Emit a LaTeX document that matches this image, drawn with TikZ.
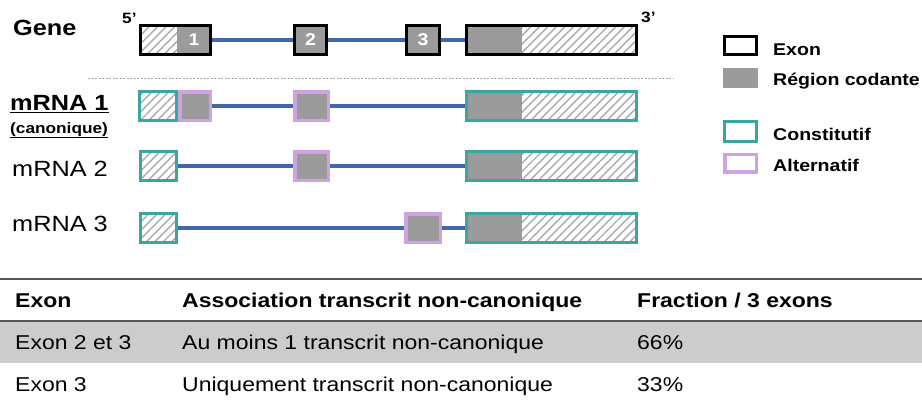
\documentclass[tikz,border=0pt]{standalone}
\usepackage{fontspec}
\setmainfont{Liberation Sans}[FakeStretch=1.15]
\usepackage{xcolor}
\usepackage{tikz}
\usetikzlibrary{positioning,patterns.meta}

\definecolor{ConstTeal}{RGB}{58,166,160}
\definecolor{AltLilac}{RGB}{207,162,226}
\definecolor{CdsGray}{RGB}{155,155,155}
\definecolor{HatchGray}{RGB}{170,170,170}
\definecolor{IntronBlue}{RGB}{62,104,170}
\definecolor{RowGray}{RGB}{204,204,204}
\definecolor{RuleGray}{RGB}{85,85,85}

\begin{document}
\begin{tikzpicture}[x=1pt, y=-1pt,
    utr/.style={pattern={Lines[angle=45,distance=6pt,line width=1.4pt]}, pattern color=HatchGray, minimum height=28.5pt, inner sep=0pt, outer sep=0pt},
    cds/.style={fill=CdsGray, minimum height=28.5pt, inner sep=0pt, outer sep=0pt, text=white, font=\bfseries\fontsize{17}{19}\selectfont},
    genebox/.style={draw=black, line width=3pt, outer sep=auto},
    constbox/.style={draw=ConstTeal, line width=3pt, outer sep=auto},
    altbox/.style={draw=AltLilac, line width=3.5pt, outer sep=auto},
    intron/.style={draw=IntronBlue, line width=3.4pt},
    rowlabel/.style={anchor=base west, inner sep=0pt, font=\fontsize{22}{26}\selectfont},
    legtext/.style={anchor=base west, inner sep=0pt, font=\bfseries\fontsize{17}{20}\selectfont},
    tabtext/.style={anchor=base west, inner sep=0pt, font=\fontsize{20}{24}\selectfont}]
    \useasboundingbox (0,0) rectangle (922,405);

    % gene
    \node [rowlabel, font=\bfseries\fontsize{22}{26}\selectfont] (gene) at (13,35) {Gene};
    \node [anchor=base west, inner sep=0pt, font=\bfseries\fontsize{15}{17}\selectfont] (five) at (122,23) {5’};
    \node [anchor=base west, inner sep=0pt, font=\bfseries\fontsize{15}{17}\selectfont] (three) at (641,22.5) {3’};
    \node [utr, minimum width=36.5] (g1u) at (159,40) {};
    \node [cds, minimum width=33.5, right=0pt of g1u] (g1c) {1};
    \node [cds, genebox, minimum width=32] (g2) at (310.5,40) {2};
    \node [cds, genebox, minimum width=33] (g3) at (423,40) {3};
    \node [cds, minimum width=55.5] (g4c) at (494.25,40) {};
    \node [utr, minimum width=114.5, right=0pt of g4c] (g4u) {};
    \draw [intron] (g1c) -- (g2);
    \draw [intron] (g2) -- (g3);
    \draw [intron] (g3) -- (g4c);
    \draw [line width=3pt] (g1u.north west) rectangle (g1c.south east);
    \draw [line width=3pt] (g4c.north west) rectangle (g4u.south east);

    \draw [gray!70, line width=0.6pt, dash pattern=on 2pt off 1.5pt] (88,78) -- (673,78);

    % mRNA 1
    \node [rowlabel, font=\bfseries\fontsize{22}{26}\selectfont] (mrna1) at (10,110.5) {\underline{mRNA 1}};
    \node [rowlabel, font=\bfseries\fontsize{15}{17}\selectfont] (canon) at (10,133) {\underline{(canonique)}};
    \node [utr, constbox, minimum width=37] (m1u) at (158,106) {};
    \node [cds, altbox, minimum width=30.5] (m1c) at (195,106) {};
    \node [cds, altbox, minimum width=33.5] (m1e2) at (311.5,106) {};
    \node [cds, minimum width=55.5] (m1e4c) at (494.25,106) {};
    \node [utr, minimum width=114.5, right=0pt of m1e4c] (m1e4u) {};
    \draw [intron] (m1c) -- (m1e2);
    \draw [intron] (m1e2) -- (m1e4c);
    \draw [ConstTeal, line width=3pt] (m1e4c.north west) rectangle (m1e4u.south east);

    % mRNA 2
    \node [rowlabel] (mrna2) at (12,176.5) {mRNA 2};
    \node [utr, constbox, minimum width=36] (m2u) at (158.5,166) {};
    \node [cds, altbox, minimum width=33.5] (m2e2) at (311.5,166) {};
    \node [cds, minimum width=55.5] (m2e4c) at (494.25,166) {};
    \node [utr, minimum width=114.5, right=0pt of m2e4c] (m2e4u) {};
    \draw [intron] (m2u) -- (m2e2);
    \draw [intron] (m2e2) -- (m2e4c);
    \draw [ConstTeal, line width=3pt] (m2e4c.north west) rectangle (m2e4u.south east);

    % mRNA 3
    \node [rowlabel] (mrna3) at (12,231.5) {mRNA 3};
    \node [utr, constbox, minimum width=36] (m3u) at (158.5,228) {};
    \node [cds, altbox, minimum width=34.5] (m3e3) at (423,228) {};
    \node [cds, minimum width=55.5] (m3e4c) at (494.25,228) {};
    \node [utr, minimum width=114.5, right=0pt of m3e4c] (m3e4u) {};
    \draw [intron] (m3u) -- (m3e3);
    \draw [intron] (m3e3) -- (m3e4c);
    \draw [ConstTeal, line width=3pt] (m3e4c.north west) rectangle (m3e4u.south east);

    % legend
    \node [genebox, minimum width=32, minimum height=18, inner sep=0pt] (lexon) at (740.5,45.5) {};
    \node [cds, minimum width=35, minimum height=20] (lcds) at (740.5,78) {};
    \node [constbox, minimum width=32, minimum height=19.5, inner sep=0pt] (lconst) at (740.5,131.5) {};
    \node [altbox, minimum width=31.5, minimum height=17.5, inner sep=0pt] (lalt) at (740.5,163) {};
    \node [legtext] (texon) at (773,55) {Exon};
    \node [legtext] (tcds) at (773,85) {Région codante};
    \node [legtext] (tconst) at (773,140) {Constitutif};
    \node [legtext] (talt) at (773,171.5) {Alternatif};

    % table
    \fill [RowGray] (0,321) rectangle (922,363);
    \draw [RuleGray, line width=2pt] (0,279) -- (922,279);
    \draw [RuleGray, line width=2pt] (0,321) -- (922,321);
    \node [tabtext, font=\bfseries\fontsize{20}{24}\selectfont] (h1) at (15,307.5) {Exon};
    \node [tabtext, font=\bfseries\fontsize{20}{24}\selectfont] (h2) at (182,307.5) {Association transcrit non-canonique};
    \node [tabtext, font=\bfseries\fontsize{20}{24}\selectfont] (h3) at (637,307.5) {Fraction / 3 exons};
    \node [tabtext] (r1a) at (15,349.5) {Exon 2 et 3};
    \node [tabtext] (r1b) at (182,349.5) {Au moins 1 transcrit non-canonique};
    \node [tabtext] (r1c) at (637,349.5) {66\%};
    \node [tabtext] (r2a) at (15,391.5) {Exon 3};
    \node [tabtext] (r2b) at (182,391.5) {Uniquement transcrit non-canonique};
    \node [tabtext] (r2c) at (637,391.5) {33\%};
\end{tikzpicture}
\end{document}
